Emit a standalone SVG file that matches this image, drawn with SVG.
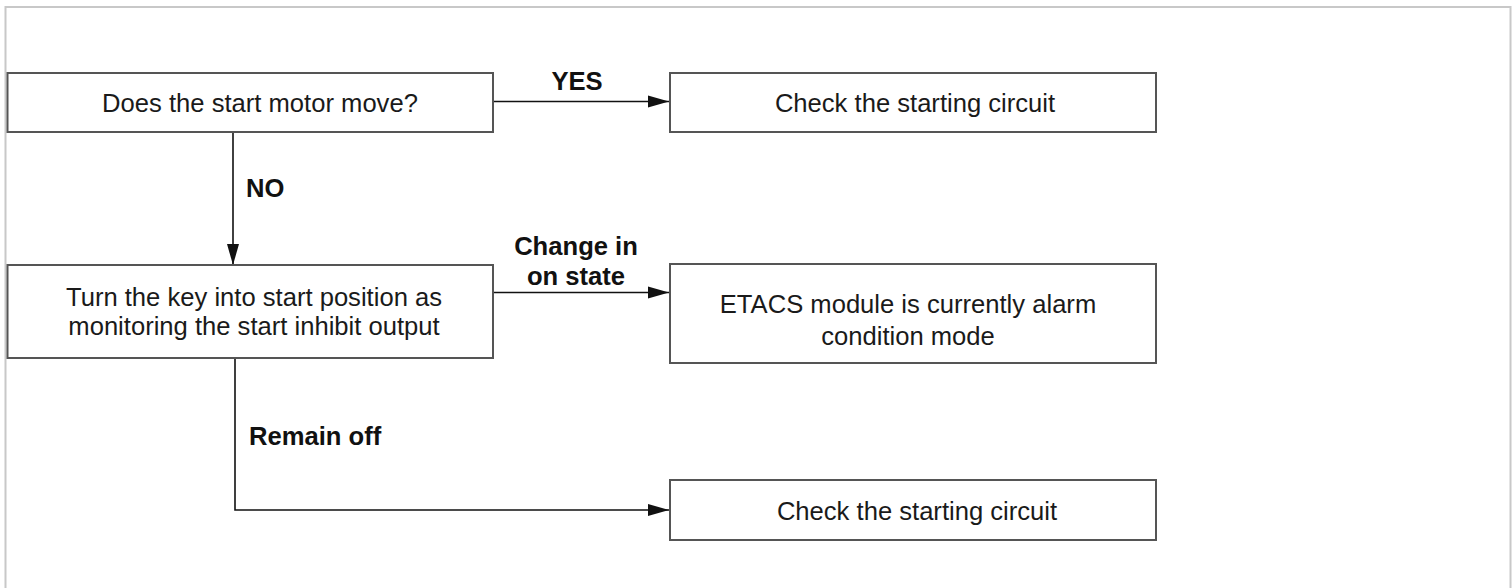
<svg xmlns="http://www.w3.org/2000/svg" width="1512" height="588" viewBox="0 0 1512 588">
  <style>
    .box { fill: #ffffff; stroke: #555555; stroke-width: 2; }
    .txt { font-family: "Liberation Sans", Arial, sans-serif; font-size: 25.6px; fill: #1a1a1a; text-anchor: middle; }
    .lbl { font-family: "Liberation Sans", Arial, sans-serif; font-size: 25.6px; font-weight: bold; fill: #111111; }
    .conn { fill: none; stroke: #111111; stroke-width: 1.6; }
  </style>
  <defs>
    <marker id="arrow" markerUnits="userSpaceOnUse" markerWidth="22" markerHeight="14" refX="21" refY="7" orient="auto">
      <path d="M0,1 L21,7 L0,13 z" fill="#111111"/>
    </marker>
  </defs>
  <rect x="0" y="0" width="1512" height="588" fill="#ffffff"/>
  <rect x="5.5" y="7" width="1505" height="600" fill="none" stroke="#c8c8c8" stroke-width="2"/>

  <g id="connectors">
    <line class="conn" x1="493" y1="101.5" x2="669" y2="101.5" marker-end="url(#arrow)"/>
    <line class="conn" x1="233" y1="132" x2="233" y2="265" marker-end="url(#arrow)"/>
    <line class="conn" x1="493" y1="292.5" x2="669" y2="292.5" marker-end="url(#arrow)"/>
    <polyline class="conn" points="235,358 235,510 669,510" marker-end="url(#arrow)"/>
    <text class="lbl" x="577" y="90" text-anchor="middle">YES</text>
    <text class="lbl" x="246" y="197">NO</text>
    <text class="lbl" x="576" y="255" text-anchor="middle">Change in</text>
    <text class="lbl" x="576" y="285" text-anchor="middle">on state</text>
    <text class="lbl" x="249" y="445">Remain off</text>
  </g>

  <g id="node-start-motor">
    <rect class="box" x="7.5" y="73" width="485.5" height="59"/>
    <text class="txt" x="260" y="112">Does the start motor move?</text>
  </g>

  <g id="node-check-circuit-1">
    <rect class="box" x="670" y="73" width="486" height="59"/>
    <text class="txt" x="915" y="112">Check the starting circuit</text>
  </g>

  <g id="node-turn-key">
    <rect class="box" x="7.5" y="265" width="485.5" height="93"/>
    <text class="txt" x="254" y="306">Turn the key into start position as</text>
    <text class="txt" x="254" y="335">monitoring the start inhibit output</text>
  </g>

  <g id="node-etacs">
    <rect class="box" x="670" y="264" width="486" height="99"/>
    <text class="txt" x="908" y="313">ETACS module is currently alarm</text>
    <text class="txt" x="908" y="345">condition mode</text>
  </g>

  <g id="node-check-circuit-2">
    <rect class="box" x="670" y="480" width="486" height="60"/>
    <text class="txt" x="917" y="520">Check the starting circuit</text>
  </g>
</svg>
